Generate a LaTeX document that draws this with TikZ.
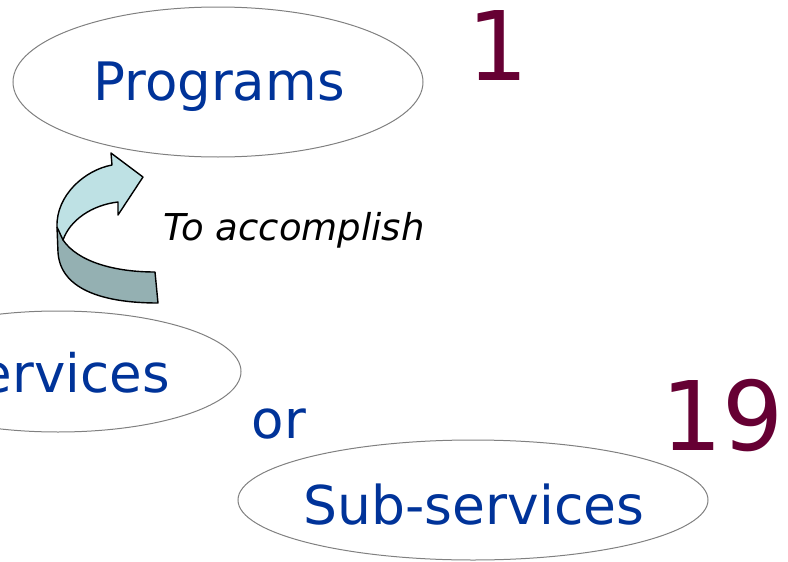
\documentclass[tikz,border=0pt]{standalone}
\usepackage{fontspec}
\setmainfont{DejaVu Sans}
\usetikzlibrary{shapes.geometric}
\definecolor{txtblue}{RGB}{0,51,153}
\definecolor{numred}{RGB}{102,0,51}
\definecolor{arrlight}{RGB}{190,225,228}
\definecolor{arrdark}{RGB}{148,176,178}
\definecolor{ellgray}{RGB}{128,128,128}
\tikzset{
  oval/.style={ellipse, draw=ellgray, line width=1pt, inner sep=0pt},
  bigtxt/.style={text=txtblue, font=\fontsize{53}{60}\selectfont, anchor=base, inner sep=0pt},
  numtxt/.style={text=numred, font=\fontsize{96}{110}\selectfont, anchor=base, inner sep=0pt},
  ribbon/.style={draw=black, line width=1.4pt, line join=round}
}
\begin{document}
\begin{tikzpicture}[x=1pt,y=-1pt]
\useasboundingbox (0,0) rectangle (788,562);
% ellipses
\node[oval, minimum width=410pt, minimum height=150pt] (progov) at (218,82) {};
\node[oval, minimum width=366pt, minimum height=121pt] (servov) at (58,371.5) {};
\node[oval, minimum width=470pt, minimum height=120pt] (subov) at (473,500) {};
% texts
\node[bigtxt] (prog) at (219,100) {Programs};
\node[bigtxt] (serv) at (58,392) {Services};
\node[bigtxt, font=\fontsize{53.5}{60}\selectfont] (sub) at (474,524) {Sub-services};
\node[bigtxt] (orlabel) at (279,438) {or};
\node[numtxt] (one) at (498,80) {1};
\node[numtxt] (nineteen) at (723,450) {19};
\node[anchor=base, inner sep=0pt, font=\fontsize{37}{42}\selectfont\itshape] (accomp) at (294,240) {To accomplish};
% curved arrow: back (dark) part
\fill[arrdark] (57,227) -- (63,240) .. controls (78,262) and (115,272) .. (155,272)
  -- (158,303) .. controls (100,303) and (60,288) .. (58,252) -- cycle;
\draw[ribbon] (63,240) .. controls (78,262) and (115,272) .. (155,272)
  -- (158,303) .. controls (100,303) and (60,288) .. (58,252) -- (57,227);
% front (light) part
\filldraw[ribbon, fill=arrlight] (57,227) .. controls (56,195) and (85,170) .. (112,165)
  -- (111,153) -- (143,177) -- (118,215) -- (118,202)
  .. controls (92,205) and (70,220) .. (63,240) -- cycle;
\end{tikzpicture}
\end{document}
